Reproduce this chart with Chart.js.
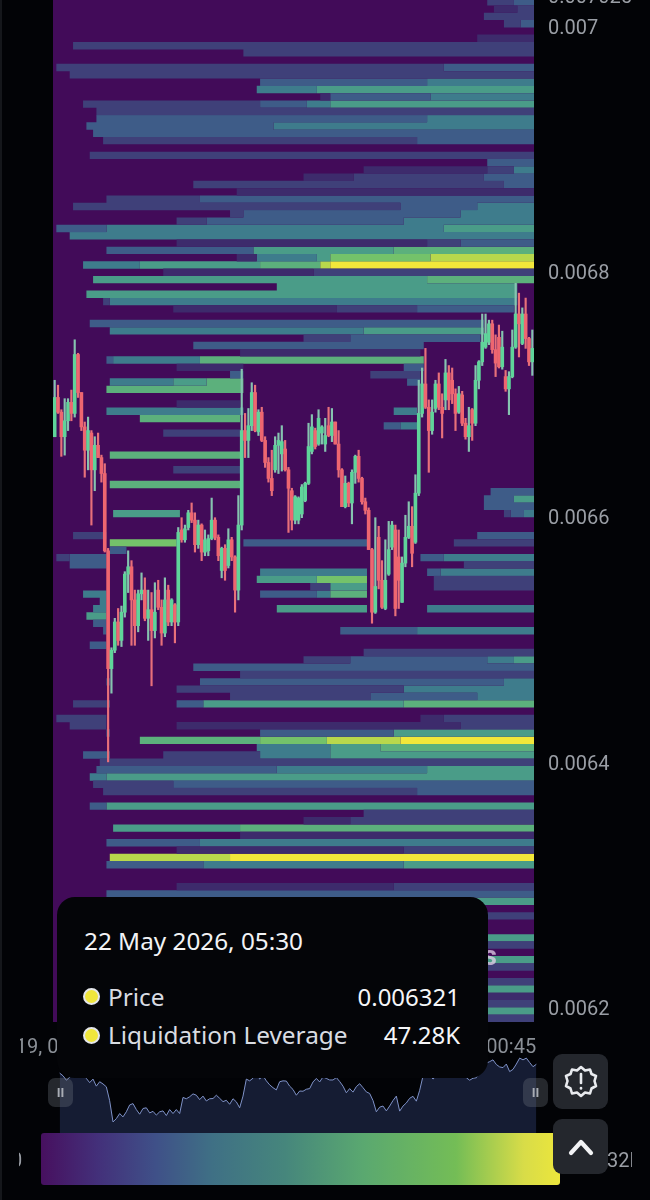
<!DOCTYPE html>
<html>
<head>
<meta charset="utf-8">
<title>Liquidation heatmap</title>
<script src="https://cdn.jsdelivr.net/npm/chart.js@4/dist/chart.umd.min.js"></script>
<style>
  html, body { margin: 0; padding: 0; width: 650px; height: 1200px; overflow: hidden; background: #020306; font-family: Roboto, sans-serif; }
  .box { position: absolute; }
  #edge { left: 0; top: 0; width: 2px; height: 1200px; background: #15171b; }
  #heatWrap { left: 20px; top: -5px; width: 630px; height: 1063px; }
  #navWrap { left: 58px; top: 1055px; width: 480px; height: 78px; }
  #watermark { right: 153px; top: 940px; color: #e6d3ea; font-weight: 700; font-size: 27px; opacity: .75; }
  #colorbar { left: 41px; top: 1133px; width: 519px; height: 52px; border-radius: 3px;
    background: linear-gradient(90deg, #47105f 0%, #43307a 11%, #3f5088 22%, #3f7085 33%, #46867c 47%, #5aa870 62%, #74bd56 80%, #d8dc48 93%, #ece63c 100%); }
  .barLabel { top: 1147px; color: #9a9ea5; font-size: 20px; line-height: 26px; overflow: hidden; white-space: nowrap; }
  .handle { top: 1078px; width: 25px; height: 29px; border-radius: 7px; background: rgba(120,125,135,.3); color: #a9adb5; font-size: 13px; line-height: 29px; text-align: center; font-weight: 700; }
  .btn { left: 553px; width: 55px; height: 55px; border-radius: 9px; background: #24272d; display: flex; align-items: center; justify-content: center; }
  #tip { left: 57px; top: 897px; width: 431px; height: 181px; border-radius: 18px; background: #040508; font-family: "Noto Sans", sans-serif; }
  #tip .title { position: absolute; left: 27px; top: 27px; color: #f2f3f5; font-size: 24.3px; line-height: 34px; white-space: nowrap; }
  #tip .name { position: absolute; left: 51px; color: #d9dce2; font-size: 24.4px; line-height: 34px; white-space: nowrap; }
  #tip .val { position: absolute; right: 28px; color: #f5f6f8; font-size: 24px; line-height: 34px; white-space: nowrap; }
  #tip .dot { position: absolute; left: 26px; width: 13px; height: 13px; border-radius: 50%; background: #f0e63c; border: 2.5px solid #e4e6ea; }
</style>
</head>
<body>
<div class="box" id="edge"></div>
<div class="box" id="heatWrap"><canvas id="heatChart"></canvas></div>
<div class="box" id="watermark">CoinGlass</div>
<div class="box" id="navWrap"><canvas id="navChart"></canvas></div>
<div class="box handle" style="left:48px">II</div>
<div class="box handle" style="left:523px">II</div>
<div class="box" id="colorbar"></div>
<div class="box barLabel" style="left:19px;width:5px;"><span style="margin-left:-8px">0</span></div>
<div class="box barLabel" style="left:607px;width:25px;">32K</div>
<div class="box btn" style="top:1054px">
  <svg width="36" height="36" viewBox="0 0 36 36" fill="none" stroke="#e8eaee" stroke-width="2.6" stroke-linejoin="round">
    <polygon points="18,3 22,6.5 27,5.5 28.5,10 33,12 31.5,17 33,22 28.5,24.5 27,29.5 22,28.5 18,32 14,28.5 9,29.5 7.5,24.5 3,22 4.5,17 3,12 7.5,10 9,5.5 14,6.5"/>
    <line x1="18" y1="10" x2="18" y2="19" stroke-linecap="round"/>
    <line x1="18" y1="24" x2="18" y2="24.5" stroke-linecap="round"/>
  </svg>
</div>
<div class="box btn" style="top:1119px">
  <svg width="30" height="24" viewBox="0 0 30 24" fill="none" stroke="#f2f3f5" stroke-width="4.2" stroke-linecap="round" stroke-linejoin="round">
    <polyline points="5,18 15,7 25,18"/>
  </svg>
</div>
<div class="box" id="tip">
  <div class="title" id="tipTitle"></div>
  <div class="dot" style="top:91px"></div>
  <div class="name" style="top:83px" id="tipName1"></div>
  <div class="val" style="top:83px" id="tipVal1"></div>
  <div class="dot" style="top:130px"></div>
  <div class="name" style="top:121px" id="tipName2"></div>
  <div class="val" style="top:121px" id="tipVal2"></div>
</div>

<script>
// prices below are in millionths, 6800 = 0.0068
const yTickValues = [7025, 7000, 6800, 6600, 6400, 6200];
const xTickValues = [1, 132.5];
const xTickLabels = ['19, 00:45', '22, 00:45'];

const candleOpen = [
  6665,6697,6685,6665,6678,6693,6684,6732,6701,6673,
  6654,6668,6638,6658,6648,6635,6572,6476,6491,6514,
  6499,6522,6553,6559,6532,6511,6537,6540,6517,6524,
  6507,6540,6526,6505,6540,6514,6528,6514,6589,6581,
  6591,6603,6597,6577,6593,6571,6572,6582,6597,6583,
  6556,6574,6560,6581,6567,6540,6593,6670,6662,6674,
  6701,6669,6685,6662,6644,6631,6638,6658,6651,6655,
  6638,6621,6597,6597,6602,6613,6627,6653,6670,6659,
  6668,6659,6674,6666,6677,6659,6638,6608,6627,6611,
  6636,6649,6631,6612,6605,6573,6522,6583,6548,6525,
  6553,6575,6589,6567,6530,6562,6583,6592,6579,6619,
  6684,6708,6689,6670,6688,6708,6689,6695,6717,6711,
  6700,6685,6699,6676,6665,6687,6676,6711,6726,6738,
  6742,6757,6736,6746,6722,6714,6704,6714,6738,6765,
  6741,6765,6745,6726
];
const candleClose = [
  6697,6685,6665,6678,6693,6684,6732,6701,6673,6654,
  6670,6638,6658,6648,6635,6572,6476,6491,6514,6499,
  6522,6553,6559,6532,6511,6537,6540,6517,6524,6507,
  6522,6526,6505,6532,6514,6532,6514,6587,6581,6590,
  6603,6597,6577,6593,6571,6581,6582,6597,6583,6568,
  6574,6556,6581,6567,6540,6593,6670,6662,6674,6701,
  6670,6685,6662,6644,6631,6621,6658,6662,6661,6638,
  6623,6597,6616,6615,6624,6627,6657,6673,6657,6680,
  6673,6666,6666,6677,6659,6638,6608,6627,6611,6636,
  6649,6631,6612,6605,6573,6522,6543,6548,6526,6548,
  6573,6593,6525,6548,6562,6583,6592,6570,6619,6684,
  6708,6689,6670,6685,6708,6689,6684,6717,6695,6700,
  6684,6700,6676,6665,6674,6676,6711,6726,6742,6749,
  6757,6736,6725,6722,6738,6704,6714,6738,6765,6757,
  6765,6745,6726,6737
];
const candleHigh = [
  6711,6707,6687,6696,6696,6703,6744,6733,6701,6677,
  6681,6670,6665,6668,6650,6643,6574,6493,6517,6525,
  6527,6555,6572,6564,6540,6540,6554,6550,6540,6538,
  6546,6548,6532,6550,6544,6533,6529,6591,6599,6593,
  6605,6611,6603,6597,6594,6589,6585,6615,6599,6585,
  6575,6577,6590,6583,6568,6617,6720,6684,6688,6709,
  6707,6687,6689,6665,6648,6654,6665,6668,6674,6662,
  6640,6623,6617,6616,6626,6628,6676,6683,6672,6687,
  6674,6680,6689,6688,6677,6670,6639,6633,6628,6638,
  6650,6654,6632,6615,6607,6574,6599,6592,6564,6581,
  6596,6596,6593,6589,6567,6601,6612,6608,6634,6711,
  6721,6737,6695,6695,6711,6717,6700,6728,6723,6721,
  6704,6706,6702,6680,6689,6688,6723,6727,6765,6765,
  6760,6760,6748,6756,6751,6719,6718,6752,6790,6782,
  6770,6778,6746,6752
];
const candleLow = [
  6665,6684,6649,6650,6670,6678,6681,6697,6670,6632,
  6638,6593,6621,6648,6628,6571,6400,6456,6489,6495,
  6494,6518,6538,6495,6495,6506,6532,6515,6499,6462,
  6501,6524,6495,6502,6511,6511,6497,6511,6579,6579,
  6589,6595,6571,6574,6564,6568,6568,6581,6581,6564,
  6550,6548,6558,6564,6522,6532,6589,6648,6648,6670,
  6669,6666,6661,6640,6628,6617,6636,6635,6637,6637,
  6587,6589,6594,6594,6599,6612,6626,6651,6655,6658,
  6659,6653,6665,6661,6659,6632,6608,6607,6608,6594,
  6627,6628,6610,6602,6573,6513,6521,6541,6525,6524,
  6552,6573,6519,6525,6530,6559,6582,6559,6578,6617,
  6681,6688,6636,6667,6685,6687,6664,6687,6687,6692,
  6670,6684,6674,6663,6653,6662,6674,6704,6723,6737,
  6740,6733,6714,6721,6720,6702,6683,6713,6737,6730,
  6740,6737,6723,6715
];

// price level of every heat row, top to bottom
const rowPrices = [
  7019.5,7013.5,7007.6,7001.6,6995.7,6989.7,6983.7,6977.8,6971.8,6965.9,
  6959.9,6953.9,6948.0,6942.0,6936.1,6930.1,6924.1,6918.2,6912.2,6906.3,
  6900.3,6894.3,6888.4,6882.4,6876.5,6870.5,6864.5,6858.6,6852.6,6846.7,
  6840.7,6834.7,6828.8,6822.8,6816.9,6810.9,6804.9,6799.0,6793.0,6787.1,
  6781.1,6775.1,6769.2,6763.2,6757.3,6751.3,6745.3,6739.4,6733.4,6727.5,
  6721.5,6715.5,6709.6,6703.6,6697.7,6691.7,6685.7,6679.8,6673.8,6667.9,
  6661.9,6655.9,6650.0,6644.0,6638.1,6632.1,6626.1,6620.2,6614.2,6608.3,
  6602.3,6596.3,6590.4,6584.4,6578.5,6572.5,6566.5,6560.6,6554.6,6548.7,
  6542.7,6536.7,6530.8,6524.8,6518.9,6512.9,6506.9,6501.0,6495.0,6489.1,
  6483.1,6477.1,6471.2,6465.2,6459.3,6453.3,6447.3,6441.4,6435.4,6429.5,
  6423.5,6417.5,6411.6,6405.6,6399.7,6393.7,6387.7,6381.8,6375.8,6369.9,
  6363.9,6357.9,6352.0,6346.0,6340.1,6334.1,6328.1,6322.2,6316.2,6310.3,
  6304.3,6298.3,6292.4,6286.4,6280.5,6274.5,6268.5,6262.6,6256.6,6250.7,
  6244.7,6238.7,6232.8,6226.8,6220.9,6214.9,6208.9,6203.0,6197.0,6191.1
];
// per row: start candle, level, start candle, level ... (level 0 = nothing, runs to the right edge)
const rowBands = [
  [130,2,138,3],[132,1,139,2],[129,2],[135,2,140,3],[],[127,1],[6,2],[57,2],[],[1,2,117,3],
  [5,2],[62,3,112,4],[61,4,79,5],[80,1,83,3,113,4],[9,2,62,3,76,4,83,5],[13,2],[13,3,112,4],[10,3,66,4],[12,3],[15,2,109,3],
  [],[11,2],[130,3],[93,1,130,2,138,4],[75,1,90,2,129,3],[42,2,135,3],[55,1],[16,2,44,3],[6,2,104,3,127,4],[53,2,57,3,122,4],
  [37,2,46,3,105,4],[1,3,16,4,117,5],[5,4],[37,1,112,2,122,3],[16,3,60,5,102,6],[55,1,61,4,79,5,83,7,113,8],[9,4,26,5,62,6,80,8,83,9],[33,1,78,2],[12,5,112,6],[67,5,139,0],
  [10,5,139,0],[15,2,17,4,139,0],[36,1,85,2,109,3,138,0],[],[11,3,129,0],[17,4,93,5,129,0],[75,2,89,3,128,0],[42,3,111,0],[56,1,110,0],[16,3,18,4,44,6,111,0],
  [37,1,57,0,105,3,111,0],[53,3,57,0,95,2,110,0],[17,4,36,5,46,6,57,0,106,3,110,0],[16,6,57,0],[],[37,1,56,0],[16,4,57,0,102,4,109,0],[26,6,56,0],[99,3,104,4,109,0],[33,2,56,0],
  [],[],[17,6,56,0],[],[36,2,56,0],[],[17,6,56,0],[131,3],[129,3,138,5],[129,3],
  [18,5,38,0,135,2,137,3,141,4],[],[],[6,2,16,0,127,3],[17,7,37,0,57,3,94,0,120,2],[17,3,22,0],[1,2,5,3,16,0,110,3,117,4],[5,3,16,0,123,2],[62,4,94,0,112,3,116,4],[61,5,79,7,94,0,114,2],
  [77,2,83,5,94,0,114,2],[9,4,16,0,62,3,79,4,83,6,94,0],[14,4,16,0],[12,4,16,0,67,5,94,0,112,4],[10,5,16,0],[12,3,16,0],[15,3,16,0,86,3,109,4],[],[11,3,16,0],[93,2],
  [75,2,89,3,130,4,138,5],[42,3],[56,2],[16,3,17,0,44,3,135,4],[37,2,105,4],[53,2,95,3,127,4],[6,2,16,3,17,0,37,3,45,5,105,6],[],[1,2,16,0,110,1,117,2],[5,2,16,0,37,1,122,2],
  [16,3,17,0,62,3,102,5],[26,6,62,7,82,8,104,9],[61,4,83,5,98,6],[9,3,17,0,33,2,62,4,83,5],[14,2],[13,3,67,4,112,5],[11,4,16,5],[12,2,36,3],[15,2,109,3],[],
  [11,3,16,5],[93,2],[75,1,89,2],[18,5,56,6],[56,1],[16,3,44,4],[37,1,105,2],[17,8,53,9],[16,3,45,4,105,5],[],
  [],[37,1,102,2],[16,3],[100,5],[],[100,2],[],[],[100,5],[100,2],
  [],[100,5],[100,2],[],[100,2],[100,5],[100,1],[100,2],[100,5],[100,2]
];

const tooltipTitle = '22 May 2026, 05:30';
const tooltipNames = ['Price', 'Liquidation Leverage'];
const tooltipValues = ['0.006321', '47.28K'];

// colours for levels 1 to 9
const levelColors = ['#3d2b6c', '#3f4079', '#3e5c88', '#3e7c8c', '#4a9c88', '#5cb07c', '#74c26a', '#b8d84c', '#f2e73a'];
const bgPurple = '#420b59';
const upColor = '#5fd49a';
const downColor = '#ee6670';
const upWick = '#86c4b0';
const downWick = '#e8707a';
const CANDLE_COUNT = 144;

function heatDatasets() {
    const sets = [];
    levelColors.forEach((color, idx) => {
        const level = idx + 1;
        const points = [];
        rowBands.forEach((bands, row) => {
            for (let b = 0; b < bands.length; b += 2) {
                if (bands[b + 1] !== level) continue;
                const end = b + 2 < bands.length ? bands[b + 2] : CANDLE_COUNT;
                points.push({ x: bands[b], y: rowPrices[row] });
                points.push({ x: end, y: rowPrices[row] });
                points.push({ x: end, y: null });
            }
        });
        sets.push({
            type: 'line',
            data: points,
            borderColor: color,
            borderWidth: 7.4,
            borderCapStyle: 'butt',
            pointRadius: 0,
            tension: 0,
            spanGaps: false,
            order: 3
        });
    });
    return sets;
}

const wickData = candleHigh.map((h, i) => ({ x: i + 0.5, y: [candleLow[i], h] }));
const bodyData = candleOpen.map((o, i) => ({ x: i + 0.5, y: [o, candleClose[i]] }));
const isUp = candleOpen.map((o, i) => candleClose[i] >= o);

const plotBackground = {
    id: 'plotBackground',
    beforeDraw(chart) {
        const a = chart.chartArea;
        chart.ctx.fillStyle = bgPurple;
        chart.ctx.fillRect(a.left, a.top, a.width, a.height);
    }
};

new Chart(document.getElementById('heatChart'), {
    type: 'bar',
    data: {
        datasets: heatDatasets().concat([
            {
                data: wickData,
                backgroundColor: isUp.map(u => u ? upWick : downWick),
                barThickness: 1.5,
                grouped: false,
                order: 2
            },
            {
                data: bodyData,
                backgroundColor: isUp.map(u => u ? upColor : downColor),
                barThickness: 3,
                grouped: false,
                order: 1
            }
        ])
    },
    options: {
        responsive: true,
        maintainAspectRatio: false,
        animation: false,
        events: [],
        layout: { padding: { left: 33, right: 0, top: 0, bottom: 0 } },
        plugins: { legend: { display: false }, tooltip: { enabled: false } },
        scales: {
            x: {
                type: 'linear',
                offset: false,
                min: 0,
                max: CANDLE_COUNT,
                grid: { display: false },
                border: { display: false },
                afterBuildTicks: scale => { scale.ticks = xTickValues.map(v => ({ value: v })); },
                afterFit: scale => { scale.height = 36; scale.paddingLeft = 0; scale.paddingRight = 0; },
                ticks: {
                    autoSkip: false,
                    maxRotation: 0,
                    padding: 6,
                    color: '#8b9097',
                    font: { family: 'Roboto', size: 20 },
                    callback: v => xTickLabels[xTickValues.indexOf(v)]
                }
            },
            y: {
                position: 'right',
                min: 6188,
                max: 7025,
                grid: { display: false, drawTicks: false },
                border: { display: false },
                afterBuildTicks: scale => { scale.ticks = yTickValues.map(v => ({ value: v })); },
                afterFit: scale => { scale.width = 116; scale.paddingTop = 0; scale.paddingBottom = 0; },
                ticks: {
                    autoSkip: false,
                    padding: 14,
                    color: '#9a9ea5',
                    // blank first line with a small line height nudges the label down 3px
                    font: { family: 'Roboto', size: 20, lineHeight: 0.3 },
                    callback: v => ['', String(+(v / 1e6).toFixed(6))]
                }
            }
        }
    },
    plugins: [plotBackground]
});

// range navigator uses the same closes
new Chart(document.getElementById('navChart'), {
    type: 'line',
    data: {
        datasets: [{
            data: candleClose.map((c, i) => ({ x: i + 0.5, y: c })),
            borderColor: '#7f92c8',
            borderWidth: 1,
            backgroundColor: '#151c33',
            fill: 'start',
            pointRadius: 0,
            tension: 0
        }]
    },
    options: {
        responsive: true,
        maintainAspectRatio: false,
        animation: false,
        events: [],
        plugins: { legend: { display: false }, tooltip: { enabled: false } },
        scales: {
            x: { type: 'linear', display: false, min: 0, max: CANDLE_COUNT },
            y: { display: false, min: 6426, max: 6779 }
        }
    }
});

document.getElementById('tipTitle').textContent = tooltipTitle;
document.getElementById('tipName1').textContent = tooltipNames[0];
document.getElementById('tipName2').textContent = tooltipNames[1];
document.getElementById('tipVal1').textContent = tooltipValues[0];
document.getElementById('tipVal2').textContent = tooltipValues[1];
</script>
</body>
</html>
